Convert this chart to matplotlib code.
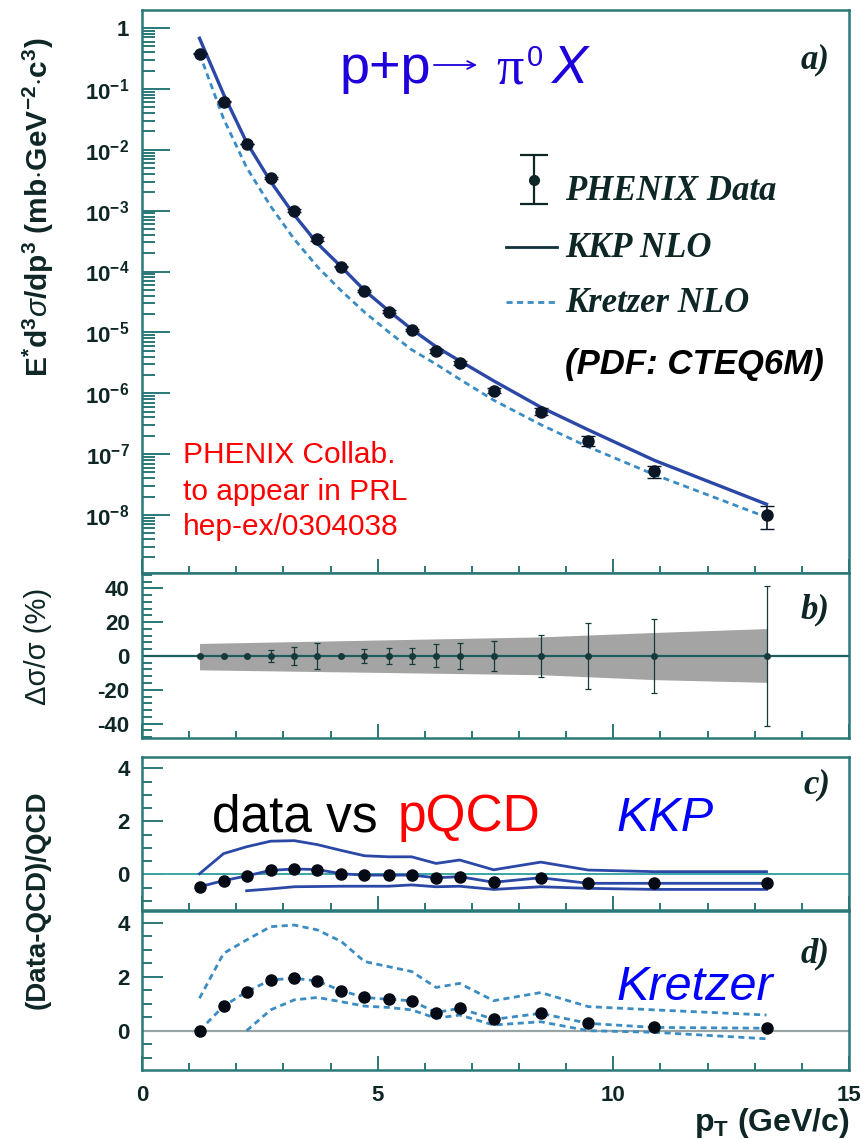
import numpy as np
import matplotlib
matplotlib.use('Agg')
import matplotlib.pyplot as plt
from matplotlib.ticker import FixedLocator, MultipleLocator, NullFormatter

plt.rcParams['font.family'] = ['Liberation Sans', 'DejaVu Sans']
plt.rcParams['mathtext.fontset'] = 'custom'
plt.rcParams['mathtext.rm'] = 'Liberation Sans'
plt.rcParams['mathtext.bf'] = 'Liberation Sans:bold'
plt.rcParams['mathtext.it'] = 'Liberation Sans:italic'
plt.rcParams['axes.unicode_minus'] = False

# ---- data ----
pt = [1.22, 1.73, 2.22, 2.73, 3.23, 3.72, 4.23, 4.72, 5.23, 5.72,
      6.24, 6.74, 7.46, 8.46, 9.47, 10.87, 13.25]
sigma = [0.38, 0.062, 0.0124, 3.4e-3, 1.0e-3, 3.4e-4, 1.2e-4, 4.8e-5, 2.2e-5,
         1.1e-5, 5.0e-6, 3.1e-6, 1.1e-6, 5.0e-7, 1.67e-7, 5.2e-8, 1.0e-8]
kkp_nlo = [0.68, 0.082, 0.0132, 3.0e-3, 8.5e-4, 2.9e-4, 1.19e-4, 4.9e-5, 2.27e-5,
           1.13e-5, 5.8e-6, 3.4e-6, 1.6e-6, 5.9e-7, 2.5e-7, 7.9e-8, 1.5e-8]
kretzer_nlo = [0.38, 0.0325, 5.1e-3, 1.18e-3, 3.4e-4, 1.2e-4, 4.8e-5, 2.15e-5,
               1.02e-5, 5.2e-6, 3.0e-6, 1.7e-6, 7.7e-7, 3.05e-7, 1.31e-7, 4.6e-8, 9.2e-9]
stat_pct = [0.8, 0.8, 0.8, 3.7, 5.5, 7.5, 0.8, 4.4, 5.0, 4.8,
            6.8, 7.6, 8.8, 12.4, 19.3, 22.0, 41.5]
zero_pct = [0.0] * 17
band_pt = [1.22, 8.46, 10.87, 13.25]
band_up = [7.4, 11.3, 13.9, 16.2]
band_lo = [-8.2, -11.1, -14.0, -15.6]

# panel c: (data-KKP)/KKP
kkp_data = [-0.47, -0.24, -0.06, 0.15, 0.20, 0.18, 0.02, -0.03, -0.03, -0.03,
            -0.13, -0.09, -0.30, -0.13, -0.34, -0.34, -0.34]
kkp_up = [0.02, 0.78, 1.04, 1.25, 1.27, 1.12, 0.90, 0.70, 0.66, 0.66,
          0.41, 0.54, 0.17, 0.46, 0.16, 0.10, 0.10]
pt_low = pt[2:]
kkp_lo = [-0.62, -0.55, -0.47, -0.46, -0.45, -0.45, -0.45, -0.40,
          -0.47, -0.45, -0.57, -0.47, -0.53, -0.57, -0.57]

# panel d: (data-Kretzer)/Kretzer
kre_data = [0.0, 0.91, 1.44, 1.88, 1.94, 1.84, 1.48, 1.23, 1.16, 1.11,
            0.67, 0.83, 0.42, 0.64, 0.27, 0.12, 0.09]
kre_up = [1.2, 2.86, 3.36, 3.85, 3.91, 3.73, 3.30, 2.56, 2.37, 2.19,
          1.60, 1.75, 1.11, 1.41, 0.89, 0.77, 0.58]
kre_lo = [0.0, 0.77, 1.14, 1.23, 1.07, 0.91, 0.86, 0.77,
          0.46, 0.58, 0.21, 0.33, 0.0, -0.06, -0.30]

# ---- style ----
W, H = 867, 1139
SPINE = '#2a7878'
TXT = '#0e2626'
KKP_C = '#2b48a6'
KRE_C = '#3a8cc2'
BLUE = '#1e00dc'

fig = plt.figure(figsize=(W / 100, H / 100), dpi=100)


def box(top, bottom):
    return [142 / W, 1 - bottom / H, (849 - 142) / W, (bottom - top) / H]


def style(ax, big=False):
    for s in ax.spines.values():
        s.set_color(SPINE)
        s.set_linewidth(1.8)
    ax.set_xlim(0, 15)
    ax.xaxis.set_major_locator(MultipleLocator(5))
    ax.xaxis.set_minor_locator(MultipleLocator(1))
    ax.tick_params(which='both', direction='in', color=SPINE, width=1.4,
                   labelcolor=TXT, labelsize=16, top=False, right=False)
    ax.tick_params(axis='x', which='major', length=10, pad=11)
    ax.tick_params(axis='x', which='minor', length=5)
    ax.tick_params(axis='y', which='major', length=20 if big else 15, pad=9)
    ax.tick_params(axis='y', which='minor', length=9 if big else 7)
    for lab in ax.get_yticklabels() + ax.get_xticklabels():
        lab.set_fontweight('bold')


axa = fig.add_axes(box(10, 573.3))
axb = fig.add_axes(box(573.3, 738.3))
axc = fig.add_axes(box(757.3, 910))
axd = fig.add_axes(box(911, 1070))

# panel a
axa.set_yscale('log')
axa.plot(pt, kkp_nlo, '-', color=KKP_C, lw=2.4)
axa.plot(pt, kretzer_nlo, color=KRE_C, lw=2.0, dashes=(2.2, 1.6))
err = np.array(sigma) * np.array(stat_pct) / 100.0
axa.errorbar(pt, sigma, yerr=err, fmt='o', color='#0a1626', ms=8,
             capsize=5, elinewidth=1.2, zorder=5)
axa.set_ylim(1.1e-9, 1.98)
decades = [1, 1e-1, 1e-2, 1e-3, 1e-4, 1e-5, 1e-6, 1e-7, 1e-8]
axa.yaxis.set_major_locator(FixedLocator(decades))
axa.set_yticklabels(['1'] + [r'$\mathbf{10^{-%d}}$' % i for i in range(1, 9)])
minors = [m * d for d in [1e-9] + decades for m in range(2, 10)]
axa.yaxis.set_minor_locator(FixedLocator([v for v in minors if v < 1.98]))
axa.yaxis.set_minor_formatter(NullFormatter())
axa.set_xticklabels([])
style(axa, big=True)

# panel b
axb.fill_between(band_pt, band_lo, band_up, color='#a4a4a4', lw=0)
axb.axhline(0, color='#1f5e5e', lw=1.6)
axb.errorbar(pt, zero_pct, yerr=stat_pct, fmt='o', color='#163a3a', ms=4,
             capsize=2.5, elinewidth=0.9, capthick=0.9)
axb.set_ylim(-48.7, 48.9)
axb.yaxis.set_major_locator(FixedLocator([-40, -20, 0, 20, 40]))
axb.yaxis.set_minor_locator(MultipleLocator(4))
axb.set_xticklabels([])
style(axb)

# panel c
axc.axhline(0, color='#3aa6a6', lw=1.4)
axc.plot(pt, kkp_up, color=KKP_C, lw=2.0)
axc.plot(pt_low, kkp_lo, color=KKP_C, lw=2.0)
axc.plot(pt, kkp_data, color=KKP_C, lw=2.0, marker='o', ms=8,
         mfc='#050a14', mec='#050a14')
axc.set_ylim(-1.347, 4.415)
axc.yaxis.set_major_locator(FixedLocator([0, 2, 4]))
axc.yaxis.set_minor_locator(MultipleLocator(0.5))
axc.set_xticklabels([])
style(axc)

# panel d
axd.axhline(0, color='#9aa4a4', lw=1.6)
axd.plot(pt, kre_up, color=KRE_C, lw=2.0, dashes=(2.2, 1.6))
axd.plot(pt_low, kre_lo, color=KRE_C, lw=2.0, dashes=(2.2, 1.6))
axd.plot(pt, kre_data, color=KRE_C, lw=2.0, dashes=(2.2, 1.6), marker='o',
         ms=8, mfc='#050a14', mec='#050a14')
axd.set_ylim(-1.456, 4.43)
axd.yaxis.set_major_locator(FixedLocator([0, 2, 4]))
axd.yaxis.set_minor_locator(MultipleLocator(0.5))
axd.set_xticks([0, 5, 10, 15])
axd.set_xticklabels(['0', '5', '10', '15'])
style(axd)

# overlay in pixel coordinates for annotations
ov = fig.add_axes([0, 0, 1, 1], zorder=10)
ov.set_xlim(0, W)
ov.set_ylim(H, 0)
ov.axis('off')

serif_bi = dict(family='Liberation Serif', weight='bold', style='italic', color=TXT)

# title
ov.text(340, 83, 'p+p', fontsize=39, color=BLUE, va='baseline')
ov.annotate('', xy=(477, 65), xytext=(434, 65),
            arrowprops=dict(arrowstyle='->', color=BLUE, lw=1.3,
                            mutation_scale=14, shrinkA=0, shrinkB=0))
ov.text(496, 83, '\u03c0', fontsize=39, color=BLUE, va='baseline',
        family='Liberation Serif')
ov.text(527, 66, '0', fontsize=21, color=BLUE, va='baseline')
ov.text(551, 83, 'X', fontsize=39, color=BLUE, va='baseline', style='italic')

# legend
ov.errorbar([534], [180], yerr=[[25], [24]], fmt='o', color=TXT, ms=7,
            capsize=10, elinewidth=1.6, capthick=1.6)
ov.text(565, 200, 'PHENIX Data', fontsize=25, va='baseline', **serif_bi)
ov.plot([506, 557], [247, 247], color='#10303a', lw=2.0)
ov.text(565, 257, 'KKP NLO', fontsize=25, va='baseline', **serif_bi)
ov.plot([506, 555], [302, 302], color=KRE_C, lw=2.0, dashes=(2.2, 1.6))
ov.text(565, 312, 'Kretzer NLO', fontsize=25, va='baseline', **serif_bi)
ov.text(565, 374, '(PDF: CTEQ6M)', fontsize=25, va='baseline',
        weight='bold', style='italic', color='black')

# reference
for y, s in [(463, 'PHENIX Collab.'), (500, 'to appear in PRL'), (535, 'hep-ex/0304038')]:
    ov.text(183, y, s, fontsize=21.5, color='red', va='baseline')

# panel letters
for y, s in [(68, 'a)'), (618, 'b)'), (793, 'c)'), (962, 'd)')]:
    ov.text(830, y, s, fontsize=25, ha='right', va='baseline', **serif_bi)

# panel c/d texts
ov.text(212, 831, 'data vs ', fontsize=37, color='black', va='baseline')
ov.text(398, 831, 'pQCD', fontsize=37, color='red', va='baseline')
ov.text(617, 831, 'KKP', fontsize=35, color='#0000ff', style='italic', va='baseline')
ov.text(617, 1000, 'Kretzer', fontsize=35, color='#0000ff', style='italic', va='baseline')

# axis titles
ov.text(38, 207, r'$\mathbf{E^{*}d^{3}}\sigma\mathbf{/dp^{3}\ (mb{\cdot}GeV^{-2}{\cdot}c^{3})}$',
        fontsize=21.5, rotation=90, ha='center', va='center', color=TXT)
ov.text(38, 646, '\u0394\u03c3/\u03c3 (%)', fontsize=21, rotation=90,
        ha='center', va='center', color=TXT)
ov.text(38, 900, '(Data-QCD)/QCD', fontsize=20, weight='bold', rotation=90,
        ha='center', va='center', color=TXT)
ov.text(850, 1131, r'$\mathbf{p_T}$ (GeV/c)', fontsize=23, weight='bold',
        ha='right', va='baseline', color=TXT)

fig.savefig('out.png', dpi=100)
